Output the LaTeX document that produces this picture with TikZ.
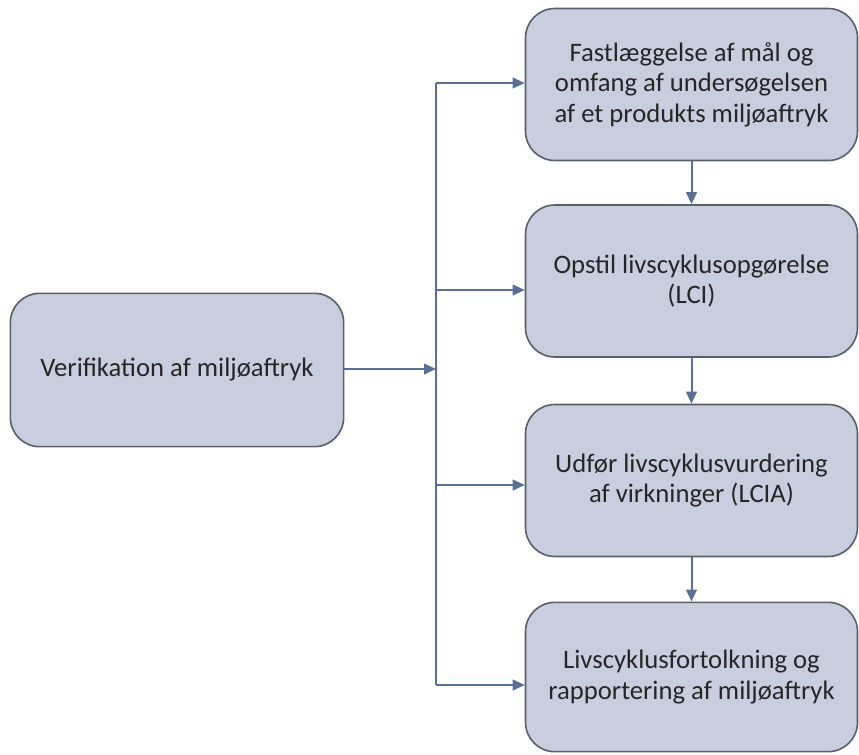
\documentclass[tikz,border=0pt]{standalone}
\usepackage{fontspec}
\setmainfont{Carlito}
\usetikzlibrary{arrows.meta,positioning}
\definecolor{boxfill}{RGB}{200,206,222}
\definecolor{boxline}{RGB}{88,94,106}
\definecolor{flow}{RGB}{88,112,150}
\begin{document}
\begin{tikzpicture}[x=0.75pt,y=-0.75pt,
        stepbox/.style={draw=boxline,fill=boxfill,line width=1.2pt,rounded corners=22pt,
            minimum width=249pt,minimum height=114pt,inner sep=0pt,align=center,
            text=black!85,font=\fontsize{20}{23}\selectfont},
        flowline/.style={draw=flow,line width=1.5pt},
        flowarrow/.style={flowline,-{Triangle[length=9pt,width=8pt]}}]
\useasboundingbox (0,0) rectangle (859,754);

% left box
\node[stepbox,minimum width=250pt,minimum height=115pt] (verif) at (177,370) {Verifikation af miljøaftryk};

% the four steps
\node[stepbox] (goal) at (691.5,84.5) {Fastlæggelse af mål og\\omfang af undersøgelsen\\af et produkts miljøaftryk};
\node[stepbox] (lci) at (691.5,281) {Opstil livscyklusopgørelse\\(LCI)};
\node[stepbox] (lcia) at (691.5,480.5) {Udfør livscyklusvurdering\\af virkninger (LCIA)};
\node[stepbox,minimum height=112pt] (interp) at (691.5,677) {Livscyklusfortolkning og\\rapportering af miljøaftryk};

% branch points on the vertical line
\coordinate (j0) at (436,369);
\coordinate (j1) at (436,83);
\coordinate (j2) at (436,290);
\coordinate (j3) at (436,485);
\coordinate (j4) at (436,685);

\draw[flowarrow] (verif.east |- j0) -- (j0);
\draw[flowline] (j1) -- (j4);
\draw[flowarrow] (j1) -- (j1 -| goal.west);
\draw[flowarrow] (j2) -- (j2 -| lci.west);
\draw[flowarrow] (j3) -- (j3 -| lcia.west);
\draw[flowarrow] (j4) -- (j4 -| interp.west);

% down the chain
\draw[flowarrow] (goal) -- (lci);
\draw[flowarrow] (lci) -- (lcia);
\draw[flowarrow] (lcia) -- (interp);
\end{tikzpicture}
\end{document}
